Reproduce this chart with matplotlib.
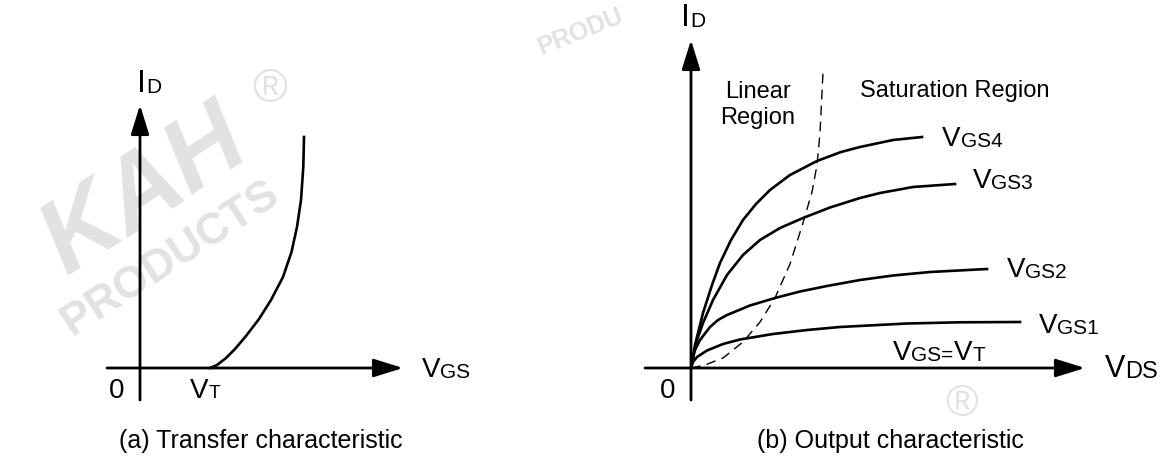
import matplotlib.pyplot as plt

plt.rcParams['font.family'] = ['Liberation Sans', 'DejaVu Sans']

# (a) transfer characteristic (arbitrary units)
vgs_transfer = [7.0, 7.7, 8.6, 9.5, 10.6, 11.9, 13.1, 14.3, 15.15, 15.7, 16.1, 16.33, 16.4]
id_transfer = [0, 0.3, 1.0, 1.9, 3.2, 4.9, 6.8, 9.1, 11.6, 14.1, 16.8, 20.1, 23.1]

# (b) output characteristic curves
vds_gs4 = [0, 0.4, 1.2, 2.1, 2.9, 4.0, 5.2, 6.5, 7.9, 9.9, 12.6, 15.0, 16.9, 20.2, 23.1]
id_gs4 = [0, 2.3, 5.5, 8.3, 10.5, 12.8, 14.8, 16.4, 17.8, 19.3, 20.7, 21.6, 22.1, 22.8, 23.1]

vds_gs3 = [0, 0.6, 1.2, 2.2, 3.6, 5.2, 6.9, 8.9, 11.2, 13.9, 16.9, 18.9, 22.2, 26.4]
id_gs3 = [0, 2.8, 4.5, 6.8, 9.3, 11.3, 12.8, 14.0, 15.0, 16.05, 17.0, 17.5, 18.1, 18.4]

vds_gs2 = [0, 0.3, 0.9, 1.9, 2.7, 3.6, 5.9, 8.4, 10.9, 13.6, 16.9, 20.2, 23.9, 29.6]
id_gs2 = [0, 1.6, 2.8, 4.1, 4.8, 5.3, 6.25, 7.0, 7.65, 8.2, 8.8, 9.25, 9.6, 9.9]

vds_gs1 = [0, 0.2, 0.6, 1.6, 3.2, 4.9, 8.2, 11.6, 14.9, 21.6, 26.9, 32.9]
id_gs1 = [0, 0.6, 1.1, 1.75, 2.4, 2.85, 3.4, 3.8, 4.1, 4.45, 4.57, 4.6]

# boundary between linear and saturation region (dashed)
vds_edge = [0, 1.4, 3.2, 5.2, 6.9, 8.4, 9.9, 11.2, 12.1, 12.6, 12.9, 13.2]
id_edge = [0, 0.3, 1.0, 2.6, 4.6, 7.0, 10.4, 14.5, 17.6, 20.3, 23.5, 29.6]

output_curves = [(vds_gs1, id_gs1), (vds_gs2, id_gs2), (vds_gs3, id_gs3), (vds_gs4, id_gs4)]
curve_labels = ['1', '2', '3', '4']
label_pos = [(34.8, 3.5), (31.6, 9.1), (28.2, 18.0), (25.1, 22.2)]

GRAY = '#e2e2e2'
DESC = 0.21  # descent of the font, as a fraction of its size


def arrow(ax, tail, tip):
    ax.annotate('', xy=tip, xytext=tail,
                arrowprops=dict(arrowstyle='-|>,head_length=18,head_width=5.6',
                                mutation_scale=1, lw=2.0, color='black',
                                shrinkA=0, shrinkB=0))


def sub_text(ax, x, y, parts):
    # big letter followed by smaller letters sitting on the same baseline
    t = ax.text(x, y, parts[0][0], fontsize=parts[0][1], va='baseline', ha='left')
    prev_fs = parts[0][1]
    for s, fs in parts[1:]:
        t = ax.annotate(s, xy=(1, 0), xycoords=t,
                        xytext=(0, DESC * (prev_fs - fs)),
                        textcoords='offset points', fontsize=fs,
                        va='bottom', ha='left')
        prev_fs = fs
    return t


fig = plt.figure(figsize=(11.65, 4.63), dpi=100)
ax1 = fig.add_axes([0, 0, 582 / 1165, 1])
ax2 = fig.add_axes([582 / 1165, 0, 583 / 1165, 1])
ax1.set_xlim(-14.0, 44.2)
ax1.set_ylim(-9.5, 36.8)
ax2.set_xlim(-10.9, 47.4)
ax2.set_ylim(-9.5, 36.8)
for ax in (ax1, ax2):
    ax.axis('off')

# watermark
ax1.text(0.5, 17.5, 'KAH', fontsize=74, fontweight='bold', fontstyle='italic',
         color=GRAY, rotation=33, ha='center', va='center', zorder=0)
ax1.text(3.0, 11.0, 'PRODUCTS', fontsize=32, fontweight='bold', color=GRAY,
         rotation=33, ha='center', va='center', zorder=0)
ax1.text(13.0, 27.8, '®', fontsize=34, color=GRAY, ha='center', va='center', zorder=0)
ax1.text(44.0, 33.6, 'PRODU', fontsize=18, fontweight='bold', color=GRAY,
         rotation=22, ha='center', va='center', zorder=0)
ax2.text(27.1, -3.7, '®', fontsize=32, color=GRAY, ha='center', va='center', zorder=0)

# (a) transfer characteristic
arrow(ax1, (-3.3, 0), (26.3, 0))
arrow(ax1, (0, -3.2), (0, 26.3))
ax1.plot(vgs_transfer, id_transfer, color='black', lw=1.9, solid_joinstyle='round')
sub_text(ax1, -0.3, 27.6, [('I', 23), ('D', 15)])
ax1.text(-2.3, -3.0, '0', fontsize=20, ha='center', va='baseline')
sub_text(ax1, 5.0, -3.0, [('V', 20), ('T', 14)])
sub_text(ax1, 28.2, -0.9, [('V', 20), ('GS', 15)])
ax1.text(12.1, -8.0, '(a) Transfer characteristic', fontsize=18, ha='center', va='baseline')

# (b) output characteristic
arrow(ax2, (-4.6, 0), (39.4, 0))
arrow(ax2, (0, -3.2), (0, 32.8))
for (vx, iy), n, (lx, ly) in zip(output_curves, curve_labels, label_pos):
    ax2.plot(vx, iy, color='black', lw=1.9, solid_joinstyle='round')
    sub_text(ax2, lx, ly, [('V', 20), ('GS' + n, 15)])
ax2.plot(vds_edge, id_edge, color='black', lw=1.0, dashes=(7, 4.5))
sub_text(ax2, -1.0, 34.2, [('I', 23), ('D', 15)])
ax2.text(-2.3, -3.0, '0', fontsize=20, ha='center', va='baseline')
ax2.text(6.7, 27.0, 'Linear', fontsize=17, ha='center', va='baseline')
ax2.text(6.7, 24.4, 'Region', fontsize=17, ha='center', va='baseline')
ax2.text(16.9, 27.1, 'Saturation Region', fontsize=17, ha='left', va='baseline')
sub_text(ax2, 20.2, 0.8, [('V', 20), ('GS=', 15), ('V', 20), ('T', 15)])
sub_text(ax2, 41.4, -0.9, [('V', 22), ('DS', 17)])
ax2.text(19.9, -8.0, '(b) Output characteristic', fontsize=18, ha='center', va='baseline')

fig.savefig('out.png', dpi=100)
